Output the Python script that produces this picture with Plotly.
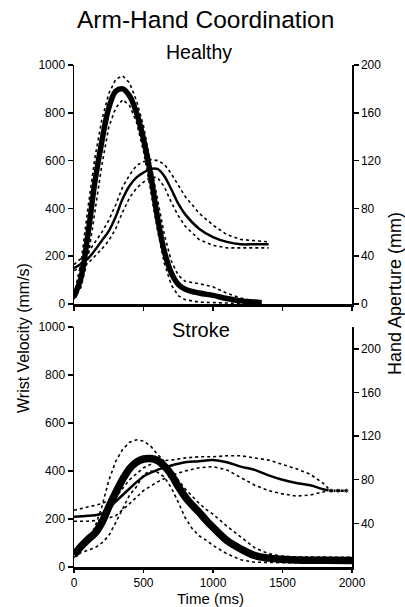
import plotly.graph_objects as go

# ---------------- data ----------------
# Healthy: wrist velocity (mm/s)
t_hv = [0, 50, 100, 150, 200, 250, 300, 350, 400, 450, 500, 550, 600, 650, 700, 750, 800, 900, 1000, 1100, 1200, 1300, 1350]
hv_mean = [30, 110, 290, 510, 680, 820, 890, 900, 870, 800, 690, 545, 365, 220, 130, 82, 62, 46, 36, 23, 13, 8, 5]
hv_up = [40, 170, 400, 610, 770, 880, 940, 955, 925, 850, 745, 600, 440, 290, 180, 120, 95, 85, 72, 45, 25, 12, 10]
hv_lo = [20, 70, 190, 390, 580, 740, 820, 855, 830, 760, 640, 480, 310, 170, 80, 35, 18, 8, 5, 3, 2, 1, 0]

# Healthy: hand aperture (mm)
t_ha = [0, 100, 200, 250, 300, 350, 400, 450, 500, 550, 600, 650, 700, 750, 800, 900, 1000, 1100, 1200, 1300, 1400]
ha_mean = [30, 38, 53, 61, 73, 88, 99, 106, 110, 113, 113, 107, 96, 84, 75, 63, 56, 52, 50, 50, 50]
ha_up = [33, 43, 60, 70, 83, 98, 108, 116, 119, 121, 120, 117, 109, 99, 90, 76, 66, 58, 54, 53, 52]
ha_lo = [28, 34, 46, 53, 63, 77, 89, 97, 102, 106, 106, 98, 85, 74, 65, 54, 49, 47, 47, 47, 47]

# Stroke: wrist velocity (mm/s)
t_sv = [0, 50, 100, 150, 200, 250, 300, 350, 400, 450, 500, 550, 600, 650, 700, 750, 800, 850, 900, 950, 1000, 1100, 1200, 1300, 1400, 1500, 1600, 1800, 2000]
sv_mean = [50, 85, 115, 140, 185, 250, 310, 365, 410, 437, 450, 452, 444, 420, 385, 335, 292, 258, 228, 195, 165, 110, 75, 48, 37, 32, 29, 28, 27]
sv_up = [60, 95, 110, 165, 250, 360, 440, 490, 520, 530, 525, 505, 470, 440, 400, 360, 325, 295, 265, 240, 220, 170, 125, 80, 55, 45, 42, 41, 40]
sv_lo = [40, 60, 70, 80, 100, 130, 185, 245, 300, 335, 385, 400, 395, 375, 330, 270, 205, 160, 130, 112, 90, 55, 30, 20, 18, 18, 18, 18, 18]

# Stroke: hand aperture (mm)
t_sa = [0, 100, 200, 300, 400, 500, 600, 700, 800, 900, 1000, 1100, 1200, 1300, 1400, 1500, 1600, 1700, 1800, 1850, 1900, 1960]
sa_mean = [46, 47, 49, 60, 72, 83, 89, 93, 96, 97, 98, 96, 92, 89, 84, 80, 77, 75, 71, 70, 70, 70]
t_sad = [0, 100, 200, 300, 400, 500, 600, 700, 800, 900, 1000, 1100, 1200, 1300, 1400, 1500, 1600, 1700, 1800, 1830]
sa_up = [52, 55, 58, 64, 80, 91, 97, 98, 100, 101, 101, 102, 102, 100, 98, 94, 90, 85, 76, 72]
sa_lo = [42, 42, 43, 47, 58, 70, 78, 84, 88, 91, 92, 89, 82, 75, 70, 67, 65, 66, 69, 70]

x_ticks = [0, 500, 1000, 1500, 2000]
vel_ticks = [0, 200, 400, 600, 800, 1000]
ap_ticks_top = [0, 40, 80, 120, 160, 200]
ap_ticks_bot = [40, 80, 120, 160, 200]

# ---------------- figure ----------------
W, H = 405, 607
FONT = "Liberation Sans, Arial, sans-serif"


def fx(px):
    return px / W


def fy(py):
    return 1 - py / H


fig = go.Figure()
dash = dict(color="black", width=1.6, dash="3px,3px")

# Healthy
fig.add_trace(go.Scatter(x=t_ha, y=ha_up, xaxis="x", yaxis="y2", mode="lines", line=dash))
fig.add_trace(go.Scatter(x=t_ha, y=ha_lo, xaxis="x", yaxis="y2", mode="lines", line=dash))
fig.add_trace(go.Scatter(x=t_hv, y=hv_up, xaxis="x", yaxis="y", mode="lines", line=dash))
fig.add_trace(go.Scatter(x=t_hv, y=hv_lo, xaxis="x", yaxis="y", mode="lines", line=dash))
fig.add_trace(go.Scatter(x=t_ha, y=ha_mean, xaxis="x", yaxis="y2", mode="lines",
                         line=dict(color="black", width=2.5, shape="spline")))
fig.add_trace(go.Scatter(x=t_hv, y=hv_mean, xaxis="x", yaxis="y", mode="lines",
                         line=dict(color="black", width=5.5, shape="spline")))

# Stroke
fig.add_trace(go.Scatter(x=t_sad, y=sa_up, xaxis="x2", yaxis="y4", mode="lines", line=dash))
fig.add_trace(go.Scatter(x=t_sad, y=sa_lo, xaxis="x2", yaxis="y4", mode="lines", line=dash))
fig.add_trace(go.Scatter(x=t_sv, y=sv_up, xaxis="x2", yaxis="y3", mode="lines", line=dash))
fig.add_trace(go.Scatter(x=t_sv, y=sv_lo, xaxis="x2", yaxis="y3", mode="lines", line=dash))
sa_msize = [5 if t >= 1850 else 0 for t in t_sa]
fig.add_trace(go.Scatter(x=t_sa, y=sa_mean, xaxis="x2", yaxis="y4", mode="lines+markers",
                         line=dict(color="black", width=2.5, shape="spline"),
                         marker=dict(color="black", size=sa_msize)))
fig.add_trace(go.Scatter(x=t_sv, y=sv_mean, xaxis="x2", yaxis="y3", mode="lines",
                         line=dict(color="black", width=7.5, shape="spline")))

xdom = [fx(74), fx(352)]
top_dom = [fy(304), fy(65)]
bot_dom = [fy(567), fy(327)]
tickfont = dict(family=FONT, size=12, color="black")

common_y = dict(showgrid=False, zeroline=False, showline=True, linecolor="black", linewidth=1.5,
                ticks="outside", ticklen=5, tickwidth=1.5, tickcolor="black", tickfont=tickfont,
                fixedrange=True, automargin=False)

fig.update_layout(
    template="none",
    width=W, height=H, autosize=False,
    margin=dict(l=0, r=0, t=0, b=0, pad=0, autoexpand=False),
    paper_bgcolor="white", plot_bgcolor="white",
    showlegend=False,
    hovermode=False,
    font=dict(family=FONT, color="black"),
    xaxis=dict(domain=xdom, anchor="y", range=[0, 2000], tickvals=x_ticks, showticklabels=False,
               showgrid=False, zeroline=False, showline=True, linecolor="black", linewidth=3,
               ticks="outside", ticklen=4, tickwidth=1.5, tickcolor="black", automargin=False,
               fixedrange=True),
    yaxis=dict(domain=top_dom, anchor="x", range=[0, 1000], tickvals=vel_ticks, **common_y),
    yaxis2=dict(overlaying="y", anchor="x", side="right", range=[0, 200], tickvals=ap_ticks_top, **common_y),
    xaxis2=dict(domain=xdom, anchor="y3", range=[0, 2000], tickvals=x_ticks, tickfont=tickfont,
                showgrid=False, zeroline=False, showline=True, linecolor="black", linewidth=2.5,
                ticks="outside", ticklen=3, tickwidth=1.5, tickcolor="black", automargin=False,
                fixedrange=True),
    yaxis3=dict(domain=bot_dom, anchor="x2", range=[0, 1000], tickvals=vel_ticks, **common_y),
    yaxis4=dict(overlaying="y3", anchor="x2", side="right", range=[0, 220], tickvals=ap_ticks_bot, **common_y),
)

ann = [
    dict(text="Arm-Hand Coordination", x=fx(205), y=fy(19), size=24.5, angle=0),
    dict(text="Healthy", x=fx(199), y=fy(52), size=19.5, angle=0),
    dict(text="Stroke", x=fx(201), y=fy(330), size=20, angle=0),
    dict(text="Time (ms)", x=fx(210), y=fy(598), size=15, angle=0),
    dict(text="Wrist Velocity (mm/s)", x=fx(23), y=fy(338), size=16, angle=-90),
    dict(text="Hand Aperture (mm)", x=fx(395), y=fy(294), size=18, angle=-90),
]
for a in ann:
    fig.add_annotation(text=a["text"], x=a["x"], y=a["y"], xref="paper", yref="paper",
                       showarrow=False, textangle=a["angle"], xanchor="center", yanchor="middle",
                       font=dict(family=FONT, size=a["size"], color="black"))

fig.write_html("out.html",
               config={"displayModeBar": False, "responsive": False, "staticPlot": True},
               post_script="document.body.style.margin='0';document.body.style.padding='0';"
                           "document.body.style.overflow='hidden';")
